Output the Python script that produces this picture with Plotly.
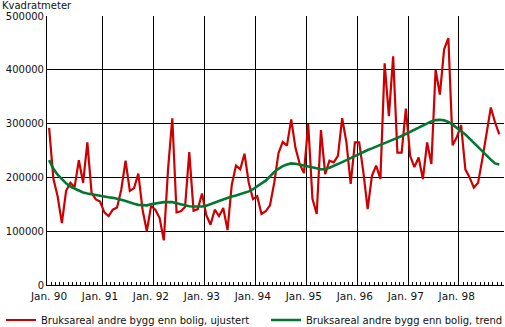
import plotly.graph_objects as go

# Monthly values, Jan 1990 - Nov 1998 (square metres)
year_labels = ["Jan. 90", "Jan. 91", "Jan. 92", "Jan. 93", "Jan. 94",
               "Jan. 95", "Jan. 96", "Jan. 97", "Jan. 98"]

unadjusted = [
    292000, 198000, 165000, 115000, 175000, 190000, 182000, 232000, 190000, 265000, 171000, 159000,
    155000, 135000, 128000, 140000, 144000, 178000, 231000, 175000, 180000, 207000, 140000, 100000,
    147000, 140000, 125000, 83000, 215000, 310000, 135000, 137000, 145000, 247000, 138000, 141000,
    170000, 130000, 112000, 140000, 128000, 143000, 102000, 186000, 222000, 215000, 244000, 190000,
    160000, 165000, 132000, 137000, 148000, 190000, 245000, 266000, 259000, 308000, 255000, 225000,
    208000, 299000, 160000, 132000, 288000, 206000, 231000, 228000, 240000, 310000, 265000, 188000,
    265000, 265000, 209000, 141000, 203000, 222000, 197000, 412000, 314000, 425000, 246000, 246000,
    328000, 240000, 219000, 237000, 197000, 265000, 225000, 400000, 354000, 438000, 459000, 260000,
    275000, 297000, 215000, 200000, 181000, 190000, 234000, 280000, 330000, 302000, 280000,
]

trend = [
    232000, 216000, 205000, 196000, 189000, 183000, 179000, 175000, 172000, 170000, 168500, 166500,
    165000, 164000, 163000, 162000, 160500, 158500, 156000, 153000, 151000, 149000, 148000, 148000,
    150000, 151500, 153000, 154000, 154000, 154000, 152000, 150000, 148000, 146500, 146000, 146000,
    146000, 147500, 150000, 153000, 156000, 159000, 162000, 164500, 166500, 169000, 171500, 174000,
    178000, 184000, 189000, 194000, 202000, 210000, 216000, 221000, 224000, 226000, 225500, 224000,
    222000, 220500, 219000, 217000, 215000, 215500, 218000, 221000, 225000, 228500, 232000, 236000,
    240000, 244000, 247500, 251000, 254000, 257000, 260000, 263000, 266000, 270000, 273500, 277000,
    281000, 285000, 289000, 293000, 297000, 301000, 304000, 306500, 307000, 306000, 303000, 298000,
    292000, 286000, 280000, 272000, 264000, 256000, 248000, 241000, 233000, 226000, 224000,
]

y_ticks = [0, 100000, 200000, 300000, 400000, 500000]

n = len(unadjusted)
x = [i + 0.5 for i in range(n)]          # months drawn at band centres
month_bounds = list(range(0, n + 1))       # small monthly ticks
label_pos = [12 * j for j in range(len(year_labels))]
grid_pos = [12 * j + 1 for j in range(1, len(year_labels))]

font = "DejaVu Sans"
txt = "#111111"

fig = go.Figure()
fig.add_trace(go.Scatter(
    x=x, y=unadjusted, mode="lines",
    name="Bruksareal andre bygg enn bolig, ujustert",
    line=dict(color="#cc0000", width=2.2), legend="legend",
))
fig.add_trace(go.Scatter(
    x=x, y=trend, mode="lines",
    name="Bruksareal andre bygg enn bolig, trend",
    line=dict(color="#007832", width=2.6), legend="legend2",
))

ticktext = []
for b in month_bounds:
    if b in label_pos:
        ticktext.append(year_labels[label_pos.index(b)])
    else:
        ticktext.append("")

PW = 505 - 47 - 1
PH = 327 - 16 - 42


def px_x(p):
    return (p - 47) / PW


def px_y(p):
    return (327 - 42 - p) / PH


legend_common = dict(
    orientation="h", xanchor="left", yanchor="middle",
    font=dict(family=font, size=10, color=txt),
    itemwidth=30, bgcolor="rgba(0,0,0,0)",
)

fig.update_layout(
    width=505, height=327,
    margin=dict(l=47, r=1, t=16, b=42, autoexpand=False),
    paper_bgcolor="white", plot_bgcolor="white",
    font=dict(family=font, size=10.5, color=txt),
    showlegend=True,
    legend=dict(x=px_x(1), y=px_y(320), **legend_common),
    legend2=dict(x=px_x(266), y=px_y(320), **legend_common),
    xaxis=dict(
        range=[0, 107.6],
        tickmode="array", tickvals=month_bounds, ticktext=ticktext,
        ticks="inside", ticklen=3, tickwidth=1, tickcolor="black",
        ticklabelshift=2, ticklabelstandoff=1,
        tickfont=dict(family=font, size=10.5, color=txt),
        showgrid=False, zeroline=False,
        showline=True, linecolor="black", linewidth=1,
        minor=dict(tickvals=grid_pos, showgrid=True, gridcolor="black",
                   gridwidth=1, ticks=""),
        fixedrange=True,
    ),
    yaxis=dict(
        range=[0, 500000],
        tickmode="array", tickvals=y_ticks, ticktext=[str(v) for v in y_ticks],
        tickfont=dict(family=font, size=10, color=txt),
        showgrid=True, gridcolor="black", gridwidth=1,
        zeroline=False, showline=True, linecolor="black", linewidth=1,
        ticks="", fixedrange=True,
    ),
    annotations=[dict(
        text="Kvadratmeter", xref="paper", yref="paper",
        x=px_x(0), y=px_y(5.5), xanchor="left", yanchor="middle",
        showarrow=False, font=dict(family=font, size=10, color=txt),
    )],
)

fig.write_html("out.html")
